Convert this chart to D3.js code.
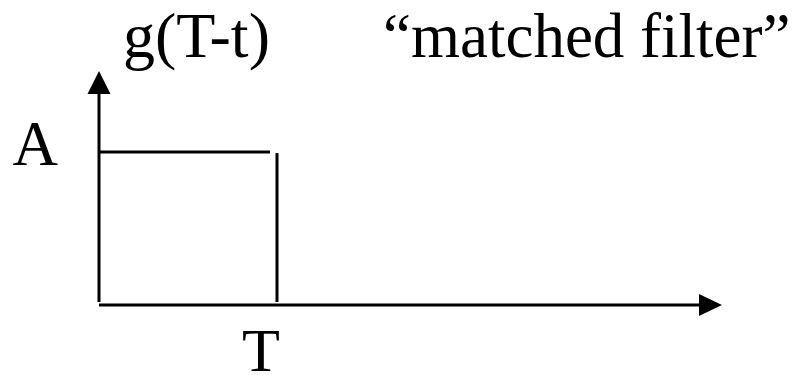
<!DOCTYPE html>
<html>
<head>
<meta charset="utf-8">
<script src="https://cdn.jsdelivr.net/npm/d3@7"></script>
<style>
  body { margin: 0; background: #fff; }
  text { font-family: "Liberation Serif", "Times New Roman", serif; fill: #000; }
</style>
</head>
<body>
<div id="chart"></div>
<script>
// Pulse data: g(T-t) is A between t = 0 and t = T
const pulseTimes = [0, 1];      // 0 .. T
const pulseLevels = [1];        // A
const axisTimeMax = 3.5;        // end of the time axis (in units of T)
const axisLevelMax = 1.53;      // top of the amplitude axis (in units of A)
const tickLabels = { level: "A", time: "T" };
const titleText = "g(T-t)";
const noteText = "\u201Cmatched filter\u201D";

const width = 798, height = 375;

const svg = d3.select("#chart")
    .append("svg")
    .attr("width", width)
    .attr("height", height);

// Scales
const x = d3.scaleLinear().domain([0, axisTimeMax]).range([99, 722]);
const y = d3.scaleLinear().domain([0, axisLevelMax]).range([305, 71]);

const arrow = 23;

// Time axis with arrow
svg.append("line")
    .attr("x1", x(0)).attr("x2", x(axisTimeMax) - arrow + 2)
    .attr("y1", y(0)).attr("y2", y(0))
    .attr("stroke", "#000").attr("stroke-width", 3);
svg.append("path")
    .attr("d", `M${x(axisTimeMax)},${y(0)} L${x(axisTimeMax) - arrow},${y(0) - 11} L${x(axisTimeMax) - arrow},${y(0) + 11}Z`)
    .attr("fill", "#000");

// Amplitude axis with arrow
svg.append("line")
    .attr("x1", x(0)).attr("x2", x(0))
    .attr("y1", y(0) - 3).attr("y2", y(axisLevelMax) + arrow - 2)
    .attr("stroke", "#000").attr("stroke-width", 3);
svg.append("path")
    .attr("d", `M${x(0)},${y(axisLevelMax)} L${x(0) - 11.5},${y(axisLevelMax) + arrow} L${x(0) + 11.5},${y(axisLevelMax) + arrow}Z`)
    .attr("fill", "#000");

// Pulse: top edge and falling edge at T
svg.append("line")
    .attr("x1", x(pulseTimes[0])).attr("x2", x(pulseTimes[1]) - 7)
    .attr("y1", y(pulseLevels[0])).attr("y2", y(pulseLevels[0]))
    .attr("stroke", "#000").attr("stroke-width", 3);
svg.append("line")
    .attr("x1", x(pulseTimes[1])).attr("x2", x(pulseTimes[1]))
    .attr("y1", y(pulseLevels[0]) + 1).attr("y2", y(0) - 3)
    .attr("stroke", "#000").attr("stroke-width", 3);

// Labels
svg.append("text")
    .attr("x", x(0) - 41).attr("y", y(pulseLevels[0]) + 13)
    .attr("text-anchor", "end")
    .style("font-size", "63px")
    .text(tickLabels.level);

svg.append("text")
    .attr("x", x(pulseTimes[1]) - 16).attr("y", 371)
    .attr("text-anchor", "middle")
    .style("font-size", "62px")
    .text(tickLabels.time);

svg.append("text")
    .attr("x", 123).attr("y", 57)
    .style("font-size", "64px")
    .text(titleText);

svg.append("text")
    .attr("x", 383).attr("y", 57)
    .style("font-size", "63px")
    .text(noteText);
</script>
</body>
</html>
